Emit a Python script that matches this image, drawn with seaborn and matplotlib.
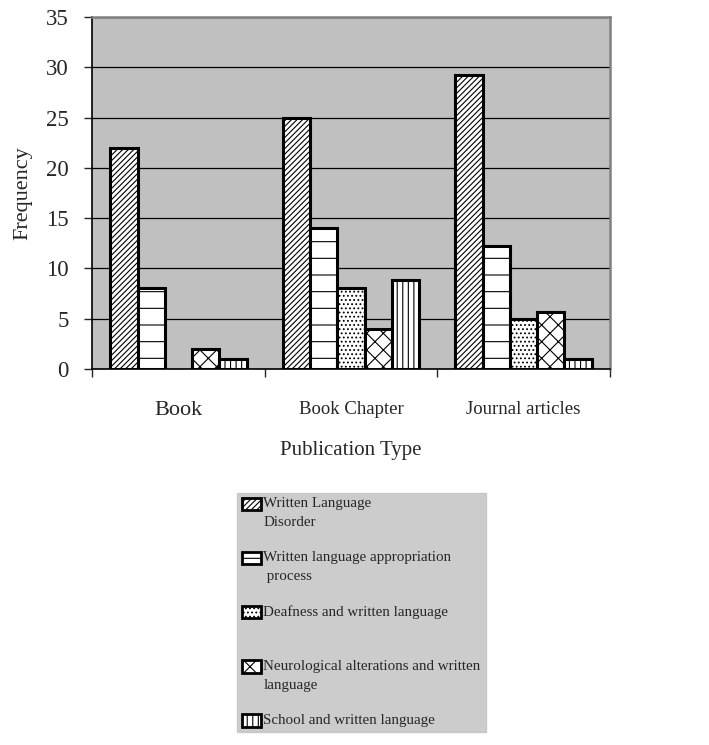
import numpy as np
import pandas as pd
import matplotlib
matplotlib.use("Agg")
import matplotlib.pyplot as plt
import matplotlib.patches as mpatches
import seaborn as sns

# Values
pub_types = ["Book", "Book Chapter", "Journal articles"]
themes = [
    "Written Language\nDisorder",
    "Written language appropriation\n process",
    "Deafness and written language\n ",
    "Neurological alterations and written\nlanguage",
    "School and written language",
]
book = [22, 8, np.nan, 2, 1]
book_chapter = [25, 14, 8, 4, 8.8]
journal = [29.2, 12.2, 5, 5.7, 1]
hatches = ["//////", "-", "....", "xx", "|||"]

rows = []
for pt, vals in zip(pub_types, [book, book_chapter, journal]):
    for th, v in zip(themes, vals):
        rows.append({"Publication Type": pt, "Theme": th, "Frequency": v})
df = pd.DataFrame(rows)

sns.set_style("white")
plt.rcParams["font.family"] = ["Liberation Serif", "DejaVu Serif"]
plt.rcParams["hatch.linewidth"] = 0.8

fig = plt.figure(figsize=(7.09, 7.45), dpi=100)
ax = fig.add_axes([0.130, 0.505, 0.730, 0.472])
ax.set_facecolor("#c0c0c0")

sns.barplot(data=df, x="Publication Type", y="Frequency", hue="Theme",
            order=pub_types, hue_order=themes, width=0.79,
            color="white", edgecolor="black", linewidth=2.2,
            legend=False, ax=ax, zorder=3)

# colour every hue container white with its own hatch
for cont, h in zip(ax.containers, hatches):
    for bar in cont:
        bar.set_facecolor("white")
        bar.set_hatch(h)
        bar.set_edgecolor("black")

ax.set_ylim(0, 35)
ax.set_xlim(-0.5, 2.5)
ax.set_yticks(range(0, 36, 5))
ax.yaxis.grid(True, color="black", linewidth=0.9, zorder=0)
ax.set_axisbelow(True)

for side in ["top", "right"]:
    ax.spines[side].set_color("#808080")
    ax.spines[side].set_linewidth(1.8)
for side in ["left", "bottom"]:
    ax.spines[side].set_color("black")
    ax.spines[side].set_linewidth(1.2)

ax.tick_params(axis="y", direction="out", length=6, width=1, left=True,
               labelsize=16.5, pad=11)
ax.set_xticks([-0.5, 0.5, 1.5, 2.5], minor=True)
ax.tick_params(axis="x", which="minor", direction="out", length=6, width=1, bottom=True)
ax.tick_params(axis="x", which="major", length=0, labelsize=13.5, pad=23)
ax.get_xticklabels()[0].set_fontsize(16)

ax.set_xlabel("Publication Type", fontsize=15, labelpad=15)
ax.set_ylabel("Frequency", fontsize=16, labelpad=10)

# legend in a grey box below the chart
handles = [mpatches.Patch(facecolor="white", edgecolor="black", hatch=h, linewidth=2)
           for h in hatches]
leg = fig.legend(handles, themes, loc="upper left",
                 bbox_to_anchor=(237 / 709, 1 - 493 / 745, 249 / 709, 0.0), mode="expand",
                 fontsize=10.8, frameon=True, fancybox=False,
                 labelspacing=1.5, handlelength=1.3, handleheight=0.95,
                 handletextpad=0.15, borderpad=0.3, borderaxespad=0)
leg.get_frame().set_facecolor("#c0c0c0")
leg.get_frame().set_edgecolor("#c0c0c0")
for t in leg.get_texts():
    t.set_linespacing(1.55)
# put each handle level with the first line of its label
for col in leg._legend_handle_box.get_children():
    for item in col.get_children():
        item.align = "top"

fig.savefig("out.png", dpi=100, facecolor="white")
